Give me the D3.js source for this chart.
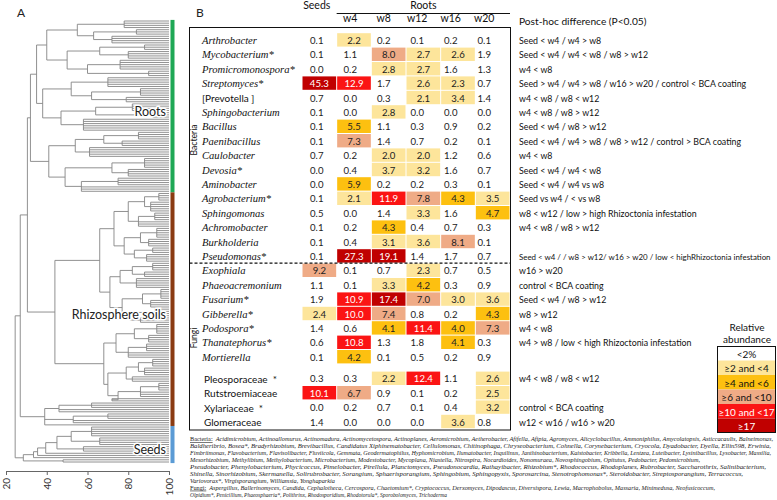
<!DOCTYPE html>
<html><head><meta charset="utf-8">
<script src="https://cdn.jsdelivr.net/npm/d3@7"></script>
<style>body{margin:0;background:#fff}svg{display:block}</style>
</head><body>
<svg id="c" width="777" height="500"></svg>
<script>
// ---------------- DATA ----------------
const taxa = ["Arthrobacter","Mycobacterium*","Promicromonospora*","Streptomyces*","[Prevotella ]","Sphingobacterium","Bacillus","Paenibacillus","Caulobacter","Devosia*","Aminobacter","Agrobacterium*","Sphingomonas","Achromobacter","Burkholderia","Pseudomonas*","Exophiala","Phaeoacremonium","Fusarium*","Gibberella*","Podospora*","Thanatephorus*","Mortierella","Pleosporaceae  *","Rutstroemiaceae","Xylariaceae  *","Glomeraceae"];
const uprightTaxa = ["[Prevotella ]","Pleosporaceae  *","Rutstroemiaceae","Xylariaceae  *","Glomeraceae"];
const kingdoms = ["Bacteria","Fungi"];
const kingdomSizes = [16, 11];
const columns = ["Seeds","w4","w8","w12","w16","w20"];
const seedsVals = [0.1,0.1,0.0,45.3,0.7,0.1,0.1,0.1,0.7,0.0,0.0,0.1,0.5,0.1,0.1,0.1,9.2,1.1,1.9,2.4,1.4,0.6,0.1,0.3,10.1,0.0,1.4];
const w4Vals    = [2.2,1.1,0.2,12.9,0.0,0.0,5.5,7.3,0.2,0.4,5.9,2.1,0.0,0.2,0.4,27.3,0.1,0.1,10.9,10.0,0.6,10.8,4.2,0.3,6.7,0.2,0.0];
const w8Vals    = [0.2,8.0,2.8,1.7,0.3,2.8,1.1,1.4,2.0,3.7,0.2,11.9,1.4,4.3,3.1,19.1,0.7,3.3,17.4,7.4,4.1,1.3,0.1,2.2,0.9,0.7,0.0];
const w12Vals   = [0.1,2.7,2.7,2.6,2.1,0.0,0.3,0.7,2.0,3.2,0.2,7.8,3.3,0.4,3.6,1.4,2.3,4.2,7.0,0.8,11.4,1.8,0.5,12.4,0.1,0.1,0.0];
const w16Vals   = [0.2,2.6,1.6,2.3,3.4,0.0,0.9,0.2,1.2,1.6,0.3,4.3,1.6,0.7,8.1,1.7,0.7,0.3,3.0,0.2,4.0,4.1,0.2,1.1,0.2,0.4,3.6];
const w20Vals   = [0.1,1.9,1.3,0.7,1.4,0.0,0.2,0.1,0.6,0.7,0.1,3.5,4.7,0.3,0.1,0.7,0.5,0.9,3.6,4.3,7.3,0.3,0.9,2.6,2.5,3.2,0.8];
const posthoc = ["Seed < w4 / w4 > w8","Seed < w4 / w4 < w8 / w8 > w12","w4 < w8","Seed > w4 / w4 > w8 / w16 > w20 / control < BCA coating","w4 < w8 / w8 < w12","w4 < w8 / w8 > w12","Seed < w4 / w8 > w12","Seed < w4 / w4 > w8 / w8 > w12 / control > BCA coating","w4 < w8","Seed < w4 / w4 < w8","Seed < w4 / w4 vs w8","Seed vs w4 / < vs w8","w8 < w12 / low > high Rhizoctonia infestation","w4 < w8 / w8 > w12","","Seed < w4 / / w8 > w12/ w16 > w20 / low < highRhizoctonia infestation","w16 > w20","control < BCA coating","Seed < w4 / w8 > w12","w8 > w12","w4 < w8","w4 > w8 / low < high Rhizoctonia infestation","","w4 < w8 / w8 < w12","","control < BCA coating","w12 < w16 / w16 > w20"];
const legendLabels = ["<2%","\u22652 and <4","\u22654 and <6","\u22656 and <10","\u226510 and <17","\u226517"];
const legendColors = ["#ffffff","#fde59b","#fdc010","#efab86","#fb1414","#c00000"];
const thresholds = [2,4,6,10,17];

// dendrogram (similarity %, leaves at 100). [height, ...children]; a bare number = that many leaves
const rootsClade = [32,
  [35,
    [40, [55,[78,4],[63,[84,3],[72,4]]], [50,[66,[88,3],[80,4]],[60,[76,5],[90,3]]]],
    [38, [52,[70,5],[62,[86,4],[79,3]]], [47,[64,[82,4],[92,3]],[58,6]]]
  ],
  [41, [54,[68,[85,4],[77,3]],[61,5]], [49,[72,[88,5],[80,4]],[57,[75,4],3]]]
];
const rhizoClade = [44,
  [66,
    [73, [80,[88,[95,4],[91,5]],[85,[93,4],3]], [78,[86,[94,5],[90,4]],[83,[92,3],[89,4]]]],
    [71, [76,[82,[92,4],[88,3]],[84,5]], [77,[87,[96,5],[91,4]],[81,[93,4],[86,3]]]]
  ],
  [68,
    [74,[83,[94,5],[90,4]],[80,[89,4],3]],
    [70,[79,[85,[92,4],[88,4]],[82,3]],[75,[86,[95,4],3],[72,2]]]
  ]
];
const outlierClade = [39,[46,[62,3],2],[53,[70,3],2],1];
const seedsClade = [28.5,[33.5,[35.5,[39.5,[45,[52,[62,5],[66,4]],[58,3]],1],1],1],[48,2]];
const dendro = [24.5,[27,[30.5,rootsClade,rhizoClade],outlierClade],seedsClade];
const sampleGroups = ["Roots","Rhizosphere soils","Seeds"];
const groupColors = ["#1fa855","#8a3b12","#5b9bd5"];
const simTicks = [20,40,60,80,100];

const footLines = [
 ["Bacteria:","  Acidimicrobium, Actinoallomurus, Actinomadura, Actinomycetospora, Actinoplanes, Aeromicrobium, Aetherobacter, Afifella, Afipia, Agromyces, Alicyclobacillus, Ammoniphilus, Amycolatopsis, Asticcacaulis, Balneimonas,"],
 ["","Baldheribrio, Bosea*, Bradyrhizobium, Brevibacillus, Candidatus Xiphinematobacter, Cellulomonas, Chitinophaga, Chryseobacterium, Cohnella, Corynebacterium, Cryocola, Dyadobacter, Dyella, Ellin598, Erwinia,"],
 ["","Fimbriimonas, Flavobacterium, Flavisolibacter, Fluviicola, Gemmata, Geodermatophilus, Hyphomicrobium, Ilumatobacter, Inquilinus, Janthinobacterium, Kaistobacter, Kribbella, Lentzea, Luteibacter, Lysinibacillus, Lysobacter, Massilia,"],
 ["","Mesorhizobium, Methylibium, Methylobacterium, Microbacterium, Modestobacter, Mycoplana, Niastella, Nitrospira, Nocardioides, Nonomuraea, Novosphingobium, Opitutus, Pedobacter, Pedomicrobium,"],
 ["","Pseudobacter, Phenylobacterium, Phycicoccus, Pimelobacter, Pirellula, Planctomyces, Pseudonocardia, Rathayibacter, Rhizobium*, Rhodococcus, Rhodoplanes, Rubrobacter, Saccharothrix, Salinibacterium,"],
 ["","Shinella, Sinorhizobium, Skermanella, Solirubrobacter, Sorangium, Sphaerisporangium, Sphingobium, Sphingopyxis, Sporosarcina, Stenotrophomonas*, Steroidobacter, Streptosporangium, Terracoccus,"],
 ["","Variovorax*, Virgisporangium, Williamsia, Yonghaparkia"],
 ["Fungi:","  Aspergillus, Ballerinomyces, Candida, Cephalotheca, Cercospora, Chaetomium*, Cryptococcus, Derxomyces, Dipodascus, Diversispora, Lewia, Macrophobolus, Massaria, Minimedusa, Neofusicoccum,"],
 ["","Olpidium*, Penicillium, Phaeosphaeria*, Polithrinx, Rhodosporidium, Rhodotorula*, Sporobolomyces, Trichoderma"]
];
const footEnds = [773,771,771,700,766,743,335,715,447];

// ---------------- DRAW ----------------
const sans = "Lato, 'Open Sans', Arial, sans-serif";
const serif = "'Liberation Serif', 'Times New Roman', serif";
const svg = d3.select("#c");

// ---- Panel A: dendrogram
function build(spec){
  const [h, ...rest] = spec;
  return {h, children: rest.flatMap(c => typeof c === "number" ? Array.from({length:c}, () => ({h:100})) : [build(c)])};
}
const countLeaves = spec => d3.hierarchy(build(spec)).leaves().length;
const root = d3.hierarchy(build(dendro));
const leaves = root.leaves();
leaves.forEach((d,i) => d.idx = i);
const yLeaf = d3.scaleLinear().domain([0, leaves.length-1]).range([21, 462]);
root.eachAfter(d => {
  d.yy = d.children ? (d.children[0].yy + d.children[d.children.length-1].yy)/2 : yLeaf(d.idx);
});
const xDen = d3.scaleLinear().domain([20,100]).range([6,169]);
const segs = [];
root.descendants().forEach(d => {
  if (d.parent) segs.push([xDen(d.parent.data.h), d.yy, xDen(d.data.h), d.yy]);
  if (d.children) segs.push([xDen(d.data.h), d.children[0].yy, xDen(d.data.h), d.children[d.children.length-1].yy]);
});
svg.append("g").selectAll("line").data(segs).join("line")
  .attr("x1", d=>d[0]).attr("y1", d=>d[1]).attr("x2", d=>d[2]).attr("y2", d=>d[3])
  .attr("stroke", "#858585").attr("stroke-width", 0.9);

const groupCounts = [countLeaves(rootsClade), countLeaves(rhizoClade)+countLeaves(outlierClade), countLeaves(seedsClade)];
const step = yLeaf(1) - yLeaf(0);
let start = 0;
const groupSpans = groupCounts.map(n => { const s = {y0: yLeaf(start) - step/2, y1: yLeaf(start+n-1) + step/2}; start += n; return s; });
svg.append("g").selectAll("rect").data(groupSpans).join("rect")
  .attr("x", xDen(100)+1.5).attr("width", 4)
  .attr("y", d=>d.y0).attr("height", d=>d.y1-d.y0)
  .attr("fill", (d,i)=>groupColors[i]);
svg.append("g").selectAll("text").data(groupSpans).join("text")
  .attr("x", xDen(100)-3).attr("y", d=>(d.y0+d.y1)/2+5)
  .attr("text-anchor","end").attr("dominant-baseline","central")
  .attr("font-family", sans).attr("font-size", 12.5).attr("fill","#222")
  .attr("stroke","#fff").attr("stroke-width",3).attr("paint-order","stroke")
  .text((d,i)=>sampleGroups[i]);

const axG = svg.append("g").attr("transform","translate(0,471)")
  .call(d3.axisBottom(xDen).tickValues(simTicks).tickSize(4).tickSizeOuter(0).tickFormat(d3.format("d")));
axG.select(".domain").attr("stroke","#666");
axG.selectAll(".tick line").attr("stroke","#666");
axG.selectAll("text").attr("transform","rotate(-90)").attr("x",-7).attr("y",0).attr("dy","0.35em")
  .attr("text-anchor","end").attr("font-family", sans).attr("font-size",10).attr("fill","#333");

svg.append("text").attr("x",17).attr("y",17).attr("font-family",sans).attr("font-size",12).attr("fill","#222").text("A");
svg.append("text").attr("x",196).attr("y",17).attr("font-family",sans).attr("font-size",12).attr("fill","#222").text("B");

// ---- Panel B: table heatmap
const valsByCol = [seedsVals, w4Vals, w8Vals, w12Vals, w16Vals, w20Vals];
const cellX = d3.scaleBand().domain(columns).range([302, 510]);
const textX = d3.scaleBand().domain(columns).range([300, 501]);
const familyStart = taxa.indexOf("Pleosporaceae  *");
const slot = i => i + (i >= familyStart ? 0.5 : 0);
const yRow = d3.scaleLinear().domain([0, slot(taxa.length-1)]).range([40, 421.6]);
const colorScale = d3.scaleThreshold().domain(thresholds).range(legendColors);

const cells = [];
taxa.forEach((t,i) => columns.forEach((c,j) => cells.push({i, c, v: valsByCol[j][i]})));
const gCells = svg.append("g");
gCells.selectAll("rect").data(cells.filter(d => d.v >= thresholds[0])).join("rect")
  .attr("x", d=>cellX(d.c)+0.5).attr("width", cellX.bandwidth()-1)
  .attr("y", d=>yRow(slot(d.i))-6.8).attr("height", 13.4)
  .attr("fill", d=>colorScale(d.v));
gCells.selectAll("text").data(cells).join("text")
  .attr("x", d => d.v >= thresholds[0] ? cellX(d.c)+cellX.bandwidth()/2 : textX(d.c)+textX.bandwidth()/2)
  .attr("y", d => yRow(slot(d.i))+0.5)
  .attr("text-anchor","middle").attr("dominant-baseline","central")
  .attr("font-family", sans).attr("font-size", 9.6)
  .attr("fill", d => d.v >= thresholds[3] ? "#fff" : "#222")
  .text(d => d.v.toFixed(1));

// row labels
svg.append("g").selectAll("text").data(taxa).join("text")
  .attr("x", (d)=> uprightTaxa.includes(d) && d !== "[Prevotella ]" ? 204 : 202)
  .attr("y", (d,i)=>yRow(slot(i))+0.5).attr("dominant-baseline","central")
  .attr("font-family", d=>uprightTaxa.includes(d) ? sans : serif)
  .attr("font-style", d=>uprightTaxa.includes(d) ? "normal" : "italic")
  .attr("font-size", d=>uprightTaxa.includes(d) ? 10 : 10.6)
  .attr("fill","#111").attr("xml:space","preserve").text(d=>d);

// kingdom labels
let kStart = 0;
kingdoms.forEach((k,i) => {
  const yc = (yRow(slot(kStart)) + yRow(slot(kStart+kingdomSizes[i]-1)))/2 - 8;
  svg.append("text").attr("transform",`translate(194,${yc}) rotate(-90)`)
    .attr("text-anchor","middle").attr("dominant-baseline","central")
    .attr("font-family",sans).attr("font-size",8.6).attr("fill","#111").text(k);
  kStart += kingdomSizes[i];
});

// box + dashed separator
svg.append("rect").attr("x",189.5).attr("y",27.5).attr("width",321).attr("height",402.5)
  .attr("fill","none").attr("stroke","#111").attr("stroke-width",1);
const ySep = (yRow(slot(kingdomSizes[0]-1)) + yRow(slot(kingdomSizes[0])))/2;
svg.append("line").attr("x1",189.5).attr("x2",510.5).attr("y1",ySep).attr("y2",ySep)
  .attr("stroke","#111").attr("stroke-width",1.2).attr("stroke-dasharray","3,2");

// header
svg.append("text").attr("x", textX("Seeds")+textX.bandwidth()/2).attr("y",9)
  .attr("text-anchor","middle").attr("font-family",sans).attr("font-size",10.5).attr("fill","#111").text("Seeds");
svg.append("text").attr("x", (cellX("w4")+510)/2).attr("y",9)
  .attr("text-anchor","middle").attr("font-family",sans).attr("font-size",10.5).attr("fill","#111").text("Roots");
svg.append("line").attr("x1",cellX("w4")).attr("x2",510).attr("y1",13.5).attr("y2",13.5).attr("stroke","#111");
svg.append("g").selectAll("text").data(columns.slice(1)).join("text")
  .attr("x", d=>textX(d)+textX.bandwidth()/2).attr("y",21.5)
  .attr("text-anchor","middle").attr("font-family",sans).attr("font-size",10.5).attr("fill","#111").text(d=>d);

// post-hoc
svg.append("text").attr("x",519).attr("y",25).attr("font-family",sans).attr("font-size",10.2).attr("fill","#111")
  .text("Post-hoc difference (P<0.05)");
const phSize = 8.8, phMax = 252;
svg.append("g").selectAll("text").data(posthoc).join("text")
  .attr("x",519).attr("y",(d,i)=>yRow(slot(i))+0.5).attr("dominant-baseline","central")
  .attr("font-family",sans).attr("font-size",phSize).attr("fill","#111").text(d=>d)
  .each(function(){ const L = this.getComputedTextLength(); if (L > phMax) d3.select(this).attr("font-size", phSize*phMax/L); });

// legend
svg.append("text").attr("x",747).attr("y",327).attr("text-anchor","middle").attr("dominant-baseline","central")
  .attr("font-family",sans).attr("font-size",10).attr("fill","#111").text("Relative");
svg.append("text").attr("x",747).attr("y",339).attr("text-anchor","middle").attr("dominant-baseline","central")
  .attr("font-family",sans).attr("font-size",10).attr("fill","#111").text("abundance");
const lg = svg.append("g");
lg.selectAll("rect").data(legendLabels).join("rect")
  .attr("x",717).attr("width",59).attr("y",(d,i)=>346+i*14.5).attr("height",14.5)
  .attr("fill",(d,i)=>legendColors[i]);
lg.selectAll("text").data(legendLabels).join("text")
  .attr("x",746.5).attr("y",(d,i)=>346+i*14.5+7.5).attr("text-anchor","middle").attr("dominant-baseline","central")
  .attr("font-family",sans).attr("font-size",10).attr("fill",(d,i)=> i>=4 ? "#fff" : "#111").text(d=>d);
lg.append("rect").attr("x",717.5).attr("y",346.5).attr("width",58).attr("height",14.5*6-1)
  .attr("fill","none").attr("stroke","#111");

// footnote
const fg = svg.append("g");
footLines.forEach((ln,i) => {
  const t = fg.append("text").attr("x",190).attr("y",441+i*6.95)
    .attr("font-family",serif).attr("font-size",6).attr("fill","#222").attr("xml:space","preserve")
    .attr("textLength", footEnds[i]-190).attr("lengthAdjust","spacingAndGlyphs");
  if (ln[0]) t.append("tspan").attr("text-decoration","underline").text(ln[0]);
  t.append("tspan").attr("font-style","italic").text(ln[1]);
});
</script>
</body></html>
